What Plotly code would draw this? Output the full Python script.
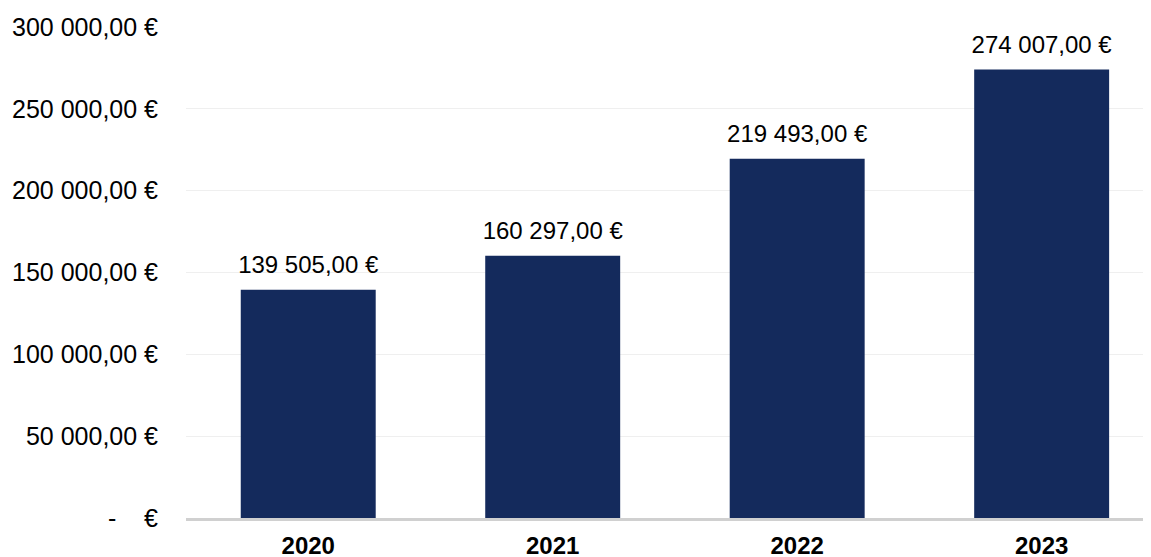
import plotly.graph_objects as go

years = ["2020", "2021", "2022", "2023"]
values = [139505, 160297, 219493, 274007]
y_ticks = [0, 50000, 100000, 150000, 200000, 250000, 300000]
y_tick_labels = ["-\u00a0\u00a0\u00a0\u00a0€", "50 000,00 €", "100 000,00 €", "150 000,00 €",
                 "200 000,00 €", "250 000,00 €", "300 000,00 €"]
bar_labels = ["139 505,00 €", "160 297,00 €", "219 493,00 €", "274 007,00 €"]

FONT = "Liberation Sans, Arial, sans-serif"

fig = go.Figure()
fig.add_trace(go.Bar(x=years, y=values, marker_color="#142A5C", marker_line_width=0,
                     hoverinfo="skip"))
fig.add_trace(go.Scatter(x=years, y=values, mode="markers+text", text=bar_labels,
                         textposition="top center",
                         marker=dict(size=16, opacity=0),
                         textfont=dict(family=FONT, size=24, color="#000000"),
                         cliponaxis=False, hoverinfo="skip"))

fig.update_layout(
    width=1151, height=557,
    margin=dict(l=178, r=0, t=19, b=47),
    paper_bgcolor="white", plot_bgcolor="white",
    bargap=0.448,
    showlegend=False,
    font=dict(family=FONT, size=24, color="#000000"),
)
fig.update_xaxes(
    type="category", range=[-0.5, 3.48],
    showgrid=False, showline=True, linecolor="#D0D0D0", linewidth=3,
    ticks="", tickfont=dict(family=FONT, size=24, color="#000000", weight="bold"),
    ticklabelstandoff=4,
)
fig.update_yaxes(
    range=[0, 300000], tickvals=y_ticks, ticktext=y_tick_labels,
    showgrid=True, gridcolor="#EFEFEF", gridwidth=1,
    zeroline=False, showline=False, ticks="",
    tickfont=dict(family=FONT, size=25, color="#000000"),
    ticklabelstandoff=27,
)

fig.write_html(
    "out.html",
    config={"displayModeBar": False},
    post_script="document.documentElement.style.overflow='hidden';document.body.style.overflow='hidden';",
)
